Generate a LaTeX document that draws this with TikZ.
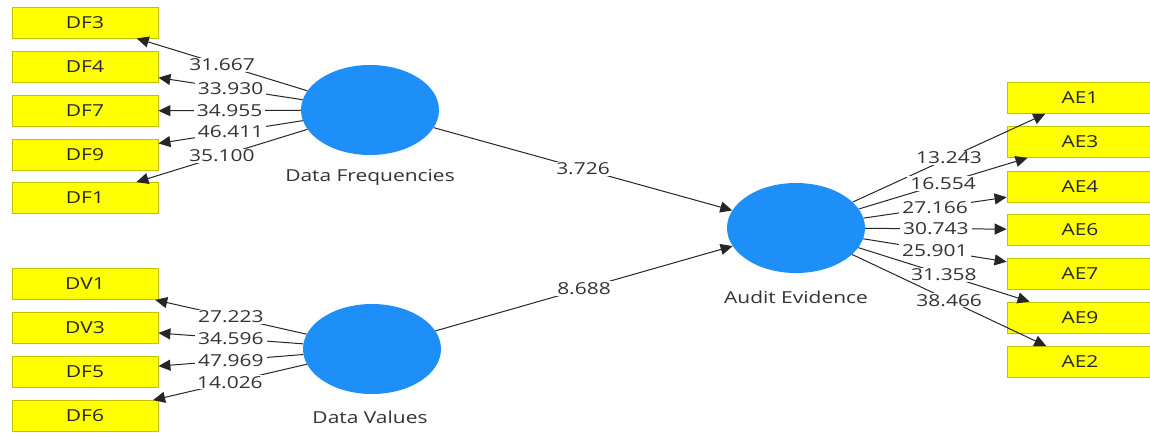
\documentclass[tikz,border=0pt]{standalone}
\usepackage{fontspec}
\setmainfont{Open Sans}[FakeStretch=1.27]
\usetikzlibrary{arrows.meta,shapes.geometric}
\definecolor{boxfill}{HTML}{FFFF00}
\definecolor{boxline}{HTML}{C2C200}
\definecolor{lvblue}{HTML}{1E8EF8}
\definecolor{txt}{HTML}{333333}
\tikzset{
  indicator/.style={rectangle, draw=boxline, line width=0.8pt, fill=boxfill,
    minimum width=146pt, minimum height=31pt, inner sep=0pt,
    font=\fontsize{16.5}{18}\selectfont, text=black!85},
  latent/.style={ellipse, fill=lvblue, draw=none, minimum width=138pt,
    minimum height=90pt, inner sep=0pt},
  lvname/.style={font=\fontsize{16.5}{18}\selectfont, text=txt},
  link/.style={draw=black!85, line width=1pt,
    -{Triangle[length=12pt,width=11pt]}},
  coef/.style={fill=white, inner xsep=3pt, inner ysep=1pt,
    font=\fontsize{16.5}{18}\selectfont, text=txt}
}
\begin{document}
\begin{tikzpicture}[x=1pt,y=-1pt]
\useasboundingbox (0,0) rectangle (1150,432);
\fill[white] (0,0) rectangle (1150,432);
\begin{scope}
\clip (0,0) rectangle (1150,432);
% latent variables
\node[latent] (DFQ) at (370,110) {};
\node[latent] (DVL) at (372,349) {};
\node[latent] (AEV) at (796,228) {};
\node[lvname] (DFQl) at (370,177) {Data Frequencies};
\node[lvname] (DVLl) at (370,417) {Data Values};
\node[lvname] (AEVl) at (796,297) {Audit Evidence};
% indicators of Data Frequencies
\node[indicator] (DF3) at (85,22.5) {DF3};
\node[indicator] (DF4) at (85,66.5) {DF4};
\node[indicator] (DF7) at (85,111) {DF7};
\node[indicator] (DF9) at (85,155) {DF9};
\node[indicator] (DF1) at (85,198) {DF1};
% indicators of Data Values
\node[indicator] (DV1) at (85,284) {DV1};
\node[indicator] (DV3) at (85,327.5) {DV3};
\node[indicator] (DF5) at (85,372) {DF5};
\node[indicator] (DF6) at (85,416) {DF6};
% indicators of Audit Evidence
\node[indicator] (AE1) at (1080,98) {AE1};
\node[indicator] (AE3) at (1080,142) {AE3};
\node[indicator] (AE4) at (1080,186.5) {AE4};
\node[indicator] (AE6) at (1080,229.5) {AE6};
\node[indicator] (AE7) at (1080,273.5) {AE7};
\node[indicator] (AE9) at (1080,317.5) {AE9};
\node[indicator] (AE2) at (1080,362) {AE2};
% outer loadings
\draw[link] (DFQ) -- node[coef] {31.667} (DF3);
\draw[link] (DFQ) -- node[coef] {33.930} (DF4);
\draw[link] (DFQ) -- node[coef] {34.955} (DF7);
\draw[link] (DFQ) -- node[coef] {46.411} (DF9);
\draw[link] (DFQ) -- node[coef] {35.100} (DF1);
\draw[link] (DVL) -- node[coef] {27.223} (DV1);
\draw[link] (DVL) -- node[coef] {34.596} (DV3);
\draw[link] (DVL) -- node[coef] {47.969} (DF5);
\draw[link] (DVL) -- node[coef] {14.026} (DF6);
\draw[link] (AEV) -- node[coef] {13.243} (AE1);
\draw[link] (AEV) -- node[coef] {16.554} (AE3);
\draw[link] (AEV) -- node[coef] {27.166} (AE4);
\draw[link] (AEV) -- node[coef] {30.743} (AE6);
\draw[link] (AEV) -- node[coef] {25.901} (AE7);
\draw[link] (AEV) -- node[coef] {31.358} (AE9);
\draw[link] (AEV) -- node[coef] {38.466} (AE2);
% structural paths
\draw[link] (DFQ) -- node[coef] {3.726} (AEV);
\draw[link] (DVL) -- node[coef] {8.688} (AEV);
\end{scope}
\end{tikzpicture}
\end{document}
